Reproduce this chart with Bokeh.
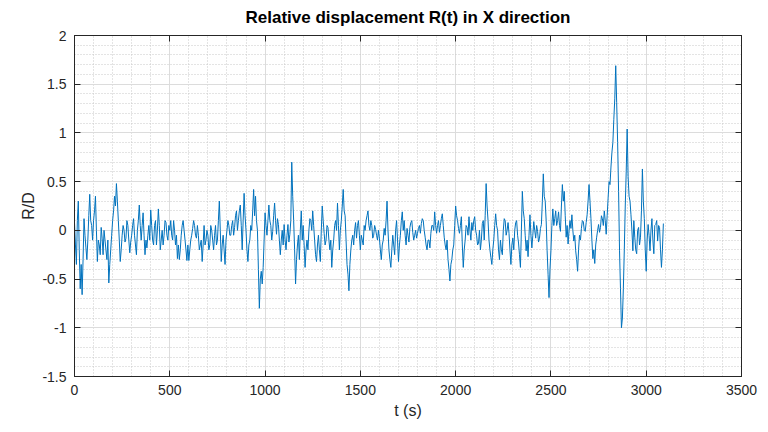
from bokeh.plotting import figure
from bokeh.models import FixedTicker, LinearAxis, Range1d, ColumnDataSource
from bokeh.embed import file_html
from bokeh.resources import INLINE

# ---- data ----
t_step = 10  # seconds between main samples
rd_values = [
    0.08, -0.35, 0.30, -0.60, -0.66, 0.12, -0.18, -0.10, 0.37, 0.05,
    0.10, 0.35, -0.32, -0.15, 0.03, -0.25, -0.10, -0.30, -0.54, -0.20,
    0.10, 0.35, 0.48, 0.10, -0.32, -0.05, 0.00, -0.08, 0.05, -0.23,
    -0.05, 0.12, -0.15, 0.00, 0.26, -0.10, 0.18, -0.25, -0.18, 0.05,
    0.21, -0.10, 0.05, -0.15, 0.22, -0.20, 0.00, -0.05, 0.08, -0.10,
    0.00, -0.05, 0.10, -0.15, -0.29, -0.30, -0.05, 0.10, -0.10, -0.31,
    -0.31, -0.10, 0.02, 0.05, -0.08, -0.05, -0.15, -0.32, 0.05, -0.10,
    -0.05, -0.15, 0.00, -0.20, 0.05, -0.10, 0.30, -0.32, -0.05, -0.35,
    0.00, 0.05, -0.05, 0.10, 0.03, 0.20, 0.10, 0.26, -0.20, 0.38,
    0.00, -0.32, -0.10, 0.00, 0.42, 0.35, 0.00, -0.80, -0.42, -0.38,
    0.18, -0.05, 0.26, 0.05, -0.01, 0.28, -0.04, 0.06, -0.25, 0.00,
    0.06, -0.20, 0.06, -0.04, 0.70, 0.10, -0.55, -0.15, -0.30, 0.20,
    0.05, -0.38, -0.10, 0.00, 0.10, 0.20, -0.10, -0.32, -0.05, -0.32,
    0.25, -0.03, -0.10, 0.03, -0.20, -0.38, -0.10, 0.10, 0.28, -0.20,
    0.10, 0.42, 0.15, -0.35, -0.62, -0.20, -0.05, 0.00, -0.08, 0.10,
    -0.20, -0.10, 0.05, 0.10, 0.20, 0.00, 0.05, -0.05, 0.01, -0.10,
    -0.08, -0.30, -0.10, -0.05, 0.30, -0.20, -0.38, -0.05, -0.25, 0.10,
    -0.32, -0.05, 0.19, 0.10, -0.15, -0.05, 0.03, 0.10, -0.10, 0.00,
    -0.03, 0.05, 0.07, 0.10, -0.07, -0.20, -0.10, -0.03, 0.05, 0.19,
    -0.03, 0.10, 0.05, 0.17, -0.07, -0.20, -0.30, -0.52, -0.30, -0.15,
    0.25, 0.10, -0.03, 0.14, -0.38, -0.10, 0.03, 0.14, -0.10, 0.00,
    0.14, -0.05, -0.13, -0.20, 0.07, -0.10, 0.48, 0.10, -0.20, -0.35,
    -0.10, 0.17, 0.00, -0.30, -0.20, 0.00, 0.10, 0.00, -0.03, -0.35,
    -0.08, 0.00, 0.10, -0.13, -0.38, 0.40, 0.12, -0.21, -0.27, 0.16,
    -0.18, 0.09, -0.08, -0.01, -0.08, 0.06, 0.58, 0.30, -0.21, -0.69,
    -0.21, 0.22, 0.12, 0.05, 0.19, -0.01, 0.47, 0.40, -0.07, -0.14,
    0.10, 0.16, -0.11, -0.21, -0.42, -0.05, 0.02, 0.09, -0.01, 0.16,
    0.47, 0.12, -0.29, -0.34, -0.07, 0.06, 0.03, 0.12, 0.20, -0.04,
    0.33, 0.47, 0.80, 1.14, 1.69, 0.90, -0.21, -1.00, -0.60, 0.25,
    1.04, 0.35, 0.16, -0.21, -0.07, -0.24, 0.03, -0.07, 0.63, 0.12,
    -0.42, 0.06, -0.21, 0.12, -0.24, 0.06, -0.11, 0.03, -0.38, 0.07,
]
# values read half-way between consecutive main samples (t + 5 s)
rd_mid_values = [
    -0.15, 0.10, -0.20, -0.35, -0.30, -0.05, -0.30, 0.15, 0.10, -0.10,
    0.20, 0.00, -0.10, -0.25, -0.08, 0.00, -0.20, -0.10, -0.35, -0.05,
    0.20, 0.25, 0.30, -0.10, -0.20, 0.05, -0.12, 0.10, -0.10, -0.12,
    0.05, -0.05, -0.25, 0.10, 0.05, 0.05, -0.05, -0.10, -0.05, -0.10,
    0.05, -0.15, 0.10, 0.00, 0.05, -0.10, -0.15, 0.10, -0.05, 0.05,
    0.10, -0.10, 0.00, -0.05, -0.15, -0.20, 0.05, 0.00, -0.20, -0.15,
    -0.20, -0.05, 0.10, -0.05, 0.05, -0.20, -0.10, -0.15, -0.15, 0.00,
    -0.20, 0.05, -0.10, -0.05, -0.15, 0.10, 0.00, -0.15, -0.20, -0.10,
    0.10, -0.05, 0.05, -0.05, 0.15, 0.00, 0.20, 0.05, 0.10, 0.15,
    -0.20, -0.15, 0.05, 0.20, 0.15, 0.10, -0.40, -0.50, -0.55, -0.10,
    0.05, 0.10, 0.10, -0.10, 0.15, 0.10, 0.12, -0.10, -0.10, -0.15,
    -0.10, -0.05, -0.12, 0.10, 0.35, -0.20, -0.30, -0.05, 0.00, -0.10,
    -0.15, -0.20, -0.20, 0.12, 0.00, 0.05, -0.25, -0.15, -0.20, 0.00,
    0.10, -0.15, 0.05, -0.10, -0.10, -0.20, 0.05, 0.00, 0.05, 0.00,
    0.25, 0.20, -0.10, -0.45, -0.35, -0.10, -0.15, 0.08, 0.05, -0.05,
    -0.05, -0.15, 0.00, 0.15, 0.05, 0.10, -0.08, 0.05, -0.05, 0.00,
    -0.20, -0.15, 0.02, 0.10, 0.00, -0.30, -0.20, -0.15, 0.00, -0.10,
    -0.15, 0.10, 0.00, -0.05, 0.02, -0.12, 0.08, -0.02, -0.05, -0.08,
    0.02, -0.03, 0.12, 0.00, -0.15, -0.10, -0.18, 0.05, 0.00, 0.05,
    0.05, -0.02, 0.12, 0.05, -0.15, -0.10, -0.40, -0.35, -0.20, 0.05,
    0.15, 0.02, 0.05, -0.15, -0.20, 0.05, -0.05, 0.00, 0.08, 0.10,
    0.00, -0.15, 0.00, -0.10, 0.10, 0.15, 0.25, -0.10, -0.28, -0.20,
    0.05, 0.05, -0.20, -0.10, -0.25, 0.12, -0.05, 0.08, -0.20, -0.15,
    -0.20, 0.08, -0.05, -0.25, 0.00, 0.20, -0.05, -0.10, -0.05, -0.05,
    -0.05, 0.00, 0.05, -0.12, 0.02, 0.30, 0.35, 0.10, -0.45, -0.40,
    0.05, 0.05, 0.20, 0.10, 0.05, 0.25, 0.30, 0.15, 0.05, 0.00,
    0.02, 0.00, -0.05, -0.30, -0.20, -0.10, 0.10, 0.00, 0.08, 0.30,
    0.30, -0.10, -0.20, -0.15, 0.00, -0.02, 0.15, 0.05, 0.10, 0.15,
    0.50, 0.65, 0.90, 1.35, 1.31, 0.40, -0.60, -0.90, -0.20, 0.60,
    0.55, 0.30, 0.00, 0.10, -0.20, 0.00, -0.15, 0.20, 0.30, -0.20,
    -0.10, -0.05, 0.00, -0.10, 0.05, 0.10, 0.05, -0.20, -0.20,
]

x_ticks = [0, 500, 1000, 1500, 2000, 2500, 3000, 3500]
x_tick_labels = ["0", "500", "1000", "1500", "2000", "2500", "3000", "3500"]
y_ticks = [-1.5, -1.0, -0.5, 0.0, 0.5, 1.0, 1.5, 2.0]
y_tick_labels = ["-1.5", "-1", "-0.5", "0", "0.5", "1", "1.5", "2"]

title_text = "Relative displacement R(t) in X direction"
x_label = "t (s)"
y_label = "R/D"

# merge main and half-way readings in time order
t_all, r_all = [], []
for i, v in enumerate(rd_values):
    t_all.append(i * t_step)
    r_all.append(v)
    if i < len(rd_mid_values):
        t_all.append(i * t_step + t_step / 2)
        r_all.append(rd_mid_values[i])

FONT = "Liberation Sans"
DARK = "#262626"

p = figure(width=768, height=432, output_backend="svg", toolbar_location=None,
           x_range=Range1d(0, 3500), y_range=Range1d(-1.5, 2),
           min_border_left=74, min_border_right=27, min_border_top=33,
           min_border_bottom=56)

p.title.text = title_text
p.title.text_font = FONT
p.title.text_font_size = "17px"
p.title.text_font_style = "bold"
p.title.text_color = "#000000"
p.title.align = "center"
p.title.offset = 0

src = ColumnDataSource(dict(t=t_all, r=r_all))
p.line("t", "r", source=src, line_color="#0072BD", line_width=1)

xt = FixedTicker(ticks=x_ticks, minor_ticks=list(range(0, 3501, 100)))
yt = FixedTicker(ticks=y_ticks, minor_ticks=[round(-1.5 + 0.1 * i, 2) for i in range(36)])

for ax in p.xaxis:
    ax.ticker = xt
    ax.major_label_overrides = {k: v for k, v in zip(x_ticks, x_tick_labels)}
    ax.axis_label = x_label
for ax in p.yaxis:
    ax.ticker = yt
    ax.major_label_overrides = {k: v for k, v in zip(y_ticks, y_tick_labels)}
    ax.axis_label = y_label

for ax in list(p.xaxis) + list(p.yaxis):
    ax.major_label_text_font = FONT
    ax.major_label_text_font_size = "14px"
    ax.major_label_text_color = DARK
    ax.axis_label_text_font = FONT
    ax.axis_label_text_font_size = "16px"
    ax.axis_label_text_font_style = "normal"
    ax.axis_label_text_color = DARK
    ax.axis_line_color = DARK
    ax.major_tick_line_color = DARK
    ax.major_tick_in = 6
    ax.major_tick_out = 0
    ax.minor_tick_line_color = None
    ax.major_label_standoff = 4

p.xaxis.axis_label_standoff = 4
p.yaxis.axis_label_standoff = 2

# box axes (top / right) with inward ticks, no labels
top = LinearAxis(ticker=xt, major_label_text_color=None, axis_line_color=DARK,
                 major_tick_line_color=DARK, major_tick_in=6, major_tick_out=0,
                 minor_tick_line_color=None, major_label_standoff=0)
right = LinearAxis(ticker=yt, major_label_text_color=None, axis_line_color=DARK,
                   major_tick_line_color=DARK, major_tick_in=6, major_tick_out=0,
                   minor_tick_line_color=None, major_label_standoff=0)
p.add_layout(top, "above")
p.add_layout(right, "right")

for g in list(p.xgrid) + list(p.ygrid):
    g.grid_line_color = "#dcdcdc"
    g.grid_line_width = 1
    g.minor_grid_line_color = "#c8c8c8"
    g.minor_grid_line_dash = "1 2"
    g.minor_grid_line_width = 1

p.outline_line_color = DARK
p.background_fill_color = "white"
p.border_fill_color = "white"

open("out.html", "w").write(file_html(p, INLINE))
